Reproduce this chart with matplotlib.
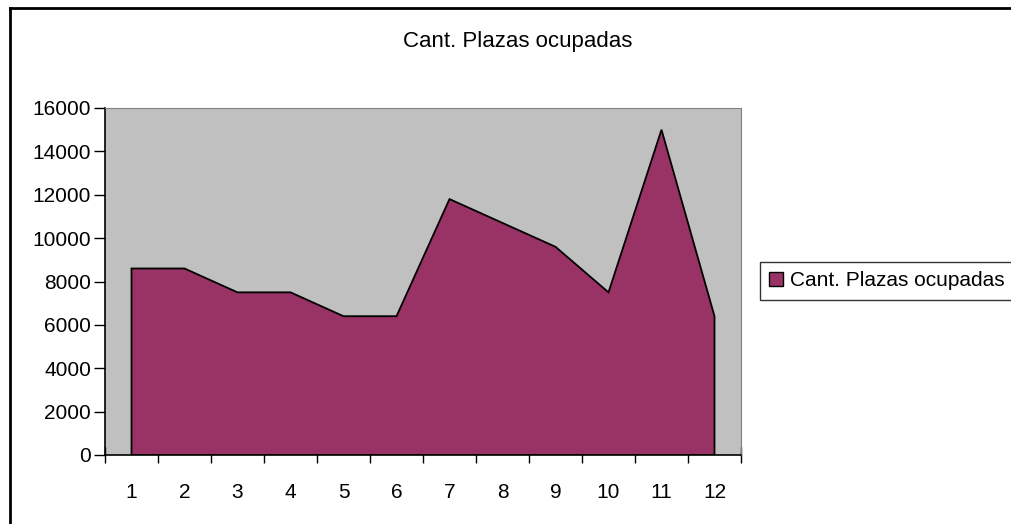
import matplotlib
matplotlib.use('Agg')
import matplotlib.pyplot as plt
from matplotlib.patches import Patch
from matplotlib.lines import Line2D

meses = [1, 2, 3, 4, 5, 6, 7, 8, 9, 10, 11, 12]
plazas = [8600, 8600, 7500, 7500, 6400, 6400, 11800, 10700, 9600, 7500, 15000, 6400]
serie = 'Cant. Plazas ocupadas'

plt.rcParams['font.family'] = ['Liberation Sans', 'DejaVu Sans']

W, H = 1011, 524
fig = plt.figure(figsize=(W / 100, H / 100), dpi=100)
ax = fig.add_axes([105 / W, 1 - 455 / H, 636 / W, 347 / H])
ax.set_facecolor('#C0C0C0')

# area con bajadas verticales en los extremos
xs = [meses[0]] + meses + [meses[-1]]
ys = [0] + plazas + [0]
ax.fill(xs, ys, facecolor='#993366', edgecolor='black', linewidth=1.3, zorder=2)

ax.set_xlim(0.5, 12.5)
ax.set_ylim(0, 16000)
ax.set_yticks(range(0, 16001, 2000))
ax.set_xticks([m - 0.5 for m in meses] + [12.5])
ax.set_xticklabels([])
ax.set_xticks(meses, minor=True)
ax.set_xticklabels([str(m) for m in meses], minor=True)
ax.tick_params(axis='x', which='major', direction='inout', length=12, width=1)
ax.tick_params(axis='x', which='minor', length=0, pad=20, labelsize=15)
ax.tick_params(axis='y', direction='out', length=8, width=1, labelsize=15, pad=2)

for s in ['top', 'right']:
    ax.spines[s].set_color('#808080')
for s in ['left', 'bottom']:
    ax.spines[s].set_color('black')
    ax.spines[s].set_linewidth(1.2)

fig.text(518 / W, 1 - 41 / H, serie, ha='center', va='center', fontsize=16)

handle = Patch(facecolor='#993366', edgecolor='black', linewidth=1)
leg = fig.legend([handle], [serie], loc='center left', bbox_to_anchor=(760 / W, 1 - 281 / H),
                 borderaxespad=0, fontsize=15, frameon=True, fancybox=False,
                 handlelength=0.65, handleheight=0.65, handletextpad=0.35, borderpad=0.45)
leg.get_frame().set_edgecolor('black')
leg.get_frame().set_linewidth(1)

# borde del area del grafico
fig.add_artist(Line2D([9.5 / W, 9.5 / W], [0, 1 - 7.5 / H], color='black', lw=2))
fig.add_artist(Line2D([9.5 / W, 1], [1 - 7.5 / H, 1 - 7.5 / H], color='black', lw=2))

plt.savefig('out.png', dpi=100)
